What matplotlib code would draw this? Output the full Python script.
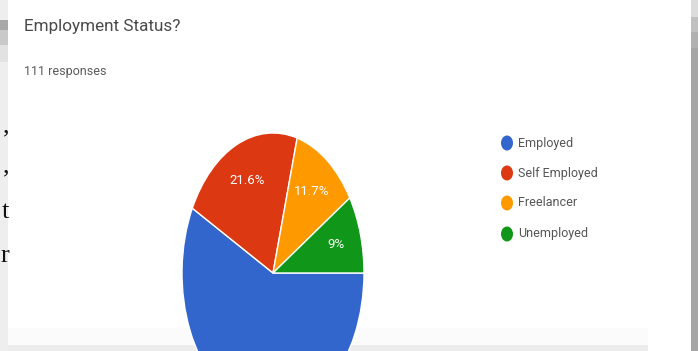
import matplotlib

matplotlib.use("Agg")
import matplotlib.pyplot as plt  # noqa: E402
from matplotlib.patches import Ellipse, Rectangle  # noqa: E402

W, H = 698, 351

title = "Employment Status?"
subtitle = "111 responses"
labels = ["Employed", "Self Employed", "Freelancer", "Unemployed"]
counts = [64, 24, 13, 10]
colors = ["#3366cc", "#dc3912", "#ff9900", "#109618"]

# line endings of the page text peeking out on the left
page_bits = [",", ",", "t", "r"]
page_bits_y = [126, 166, 212, 256]


def pct_label(p):
    s = f"{p:.1f}".rstrip("0").rstrip(".")
    return s + "%"


fig = plt.figure(figsize=(W / 100, H / 100), dpi=100)
fig.patch.set_facecolor("white")

# full-figure overlay in pixel coordinates (y grows downward)
bg = fig.add_axes([0, 0, 1, 1])
bg.set_xlim(0, W)
bg.set_ylim(H, 0)
bg.axis("off")

# left page margin
bg.add_patch(Rectangle((0, 0), 8, H, color="#eeeeee", lw=0))
bg.add_patch(Rectangle((0, 20), 8, 10, color="#a9a9a9", lw=0))
bg.add_patch(Rectangle((0, 30), 8, 15, color="#c9c9c9", lw=0))
bg.add_patch(Rectangle((0, 45), 8, 17, color="#e2e2e2", lw=0))
for ch, y in zip(page_bits, page_bits_y):
    bg.text(9, y, ch, ha="right", va="center", fontsize=19,
            family="Liberation Serif", color="#111111", clip_on=True)

# right scrollbar edge
bg.add_patch(Rectangle((691, 0), 7, H, color="#a6a6a6", lw=0))
bg.add_patch(Rectangle((691, 0), 7, 17, color="#dcdcdc", lw=0))
bg.add_patch(Rectangle((691, 17), 7, 15, color="#c0c0c0", lw=0))
bg.add_patch(Rectangle((691, 32), 7, 16, color="#b0b0b0", lw=0))

# bottom shadow of the card
bg.add_patch(Rectangle((8, 328), 640, 17, color="#fbfbfb", lw=0))
bg.add_patch(Rectangle((8, 345), 640, 6, color="#ececec", lw=0))

bg.text(24, 27, title, ha="left", va="center", fontsize=12.3,
        family="Roboto", color="#4a4a4a")
bg.text(24, 72, subtitle, ha="left", va="center", fontsize=9,
        family="Roboto", color="#5a5a5a")

# legend
leg_y = [143, 173, 203, 234]
for lab, col, y in zip(labels, colors, leg_y):
    bg.add_patch(Ellipse((507, y), 12, 15, color=col, lw=0))
    bg.text(518, y, lab, ha="left", va="center", fontsize=9,
            family="Roboto", color="#555555")

# pie, stretched vertically
cx, cy, rx, ry = 273, 273, 91, 140
ax = fig.add_axes([(cx - rx) / W, (H - cy - ry) / H, 2 * rx / W, 2 * ry / H])
wedges, _, autotexts = ax.pie(
    counts, colors=colors, startangle=0, counterclock=False,
    autopct=pct_label, pctdistance=0.72,
    wedgeprops=dict(edgecolor="white", linewidth=1),
    textprops=dict(color="white", fontsize=9.5, family="Roboto"),
)
# the Employed label sits below the visible area
autotexts[0].set_visible(False)
ax.set_aspect("auto")
ax.set_xlim(-1, 1)
ax.set_ylim(-1, 1)
ax.axis("off")

fig.savefig("out.png", dpi=100)
